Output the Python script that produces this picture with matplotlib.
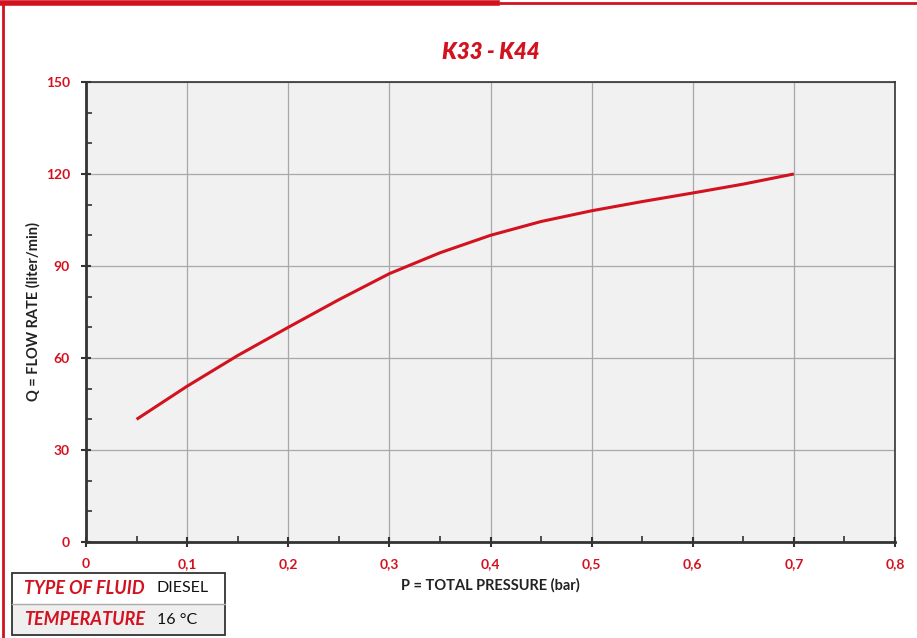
import matplotlib.pyplot as plt
from matplotlib.ticker import MultipleLocator
from matplotlib.patches import Rectangle
from matplotlib.lines import Line2D

# Flow curve
pressure = [0.05, 0.10, 0.15, 0.20, 0.25, 0.30, 0.35, 0.40, 0.45, 0.50, 0.55, 0.60, 0.65, 0.70]
flow = [40, 50.8, 60.8, 70, 79, 87.5, 94.3, 100, 104.5, 108, 111, 113.8, 116.7, 120]

x_ticks = [0, 0.1, 0.2, 0.3, 0.4, 0.5, 0.6, 0.7, 0.8]
x_labels = ["0", "0,1", "0,2", "0,3", "0,4", "0,5", "0,6", "0,7", "0,8"]
y_ticks = [0, 30, 60, 90, 120, 150]

red = "#d3121f"
dark = "#333333"

plt.rcParams['font.family'] = ['Lato', 'DejaVu Sans']

fig = plt.figure(figsize=(9.17, 6.38), dpi=100)
ax = fig.add_axes([0.0938, 0.1505, 0.8822, 0.7210])
ax.set_facecolor("#f1f1f1")

ax.plot(pressure, flow, color=red, linewidth=2.2, solid_capstyle='butt')

ax.set_xlim(0, 0.8)
ax.set_ylim(0, 150)
ax.set_xticks(x_ticks)
ax.set_xticklabels(x_labels)
ax.set_yticks(y_ticks)
ax.xaxis.set_minor_locator(MultipleLocator(0.05))
ax.yaxis.set_minor_locator(MultipleLocator(10))
ax.grid(True, which='major', color="#a8a8a8", linewidth=0.9)
ax.set_axisbelow(True)

for side in ['left', 'bottom']:
    ax.spines[side].set_color(dark)
    ax.spines[side].set_linewidth(2)
for side in ['top', 'right']:
    ax.spines[side].set_color(dark)
    ax.spines[side].set_linewidth(1.2)

ax.tick_params(which='major', direction='inout', length=7, width=1.5, color=dark,
               labelcolor=red, labelsize=10, pad=8)
ax.tick_params(which='minor', direction='in', length=4, width=1.2, color=dark)
for lbl in ax.get_xticklabels() + ax.get_yticklabels():
    lbl.set_fontweight('bold')

ax.set_xlabel("P = TOTAL PRESSURE (bar)", fontsize=10.5, fontweight='bold', color="#222222", labelpad=6)
ax.set_ylabel("Q = FLOW RATE (liter/min)", fontsize=10.5, fontweight='bold', color="#222222", labelpad=4)

fig.text(0.535, 0.918, "K33 - K44", color=red, fontsize=16, fontweight='heavy', fontstyle='italic',
         ha='center', va='center')

# red page border
fig.add_artist(Line2D([0, 0.542], [0.996, 0.996], color=red, linewidth=4, transform=fig.transFigure))
fig.add_artist(Line2D([0.542, 1], [0.995, 0.995], color=red, linewidth=2, transform=fig.transFigure))
fig.add_artist(Line2D([0.0035, 0.0035], [0, 0.996], color=red, linewidth=2, transform=fig.transFigure))

# fluid info box
x0, x1 = 12 / 917, 225 / 917
y_top, y_mid, y_bot = 1 - 573 / 638, 1 - 604 / 638, 1 - 635 / 638
fig.add_artist(Rectangle((x0, y_mid), x1 - x0, y_top - y_mid, transform=fig.transFigure,
                         facecolor="white", edgecolor="none"))
fig.add_artist(Rectangle((x0, y_bot), x1 - x0, y_mid - y_bot, transform=fig.transFigure,
                         facecolor="#efefef", edgecolor="none"))
fig.add_artist(Line2D([x0, x1], [y_mid, y_mid], color="#aaaaaa", linewidth=1, transform=fig.transFigure))
fig.add_artist(Rectangle((x0, y_bot), x1 - x0, y_top - y_bot, transform=fig.transFigure,
                         facecolor="none", edgecolor="#333333", linewidth=1.3))

ty1 = (y_top + y_mid) / 2
ty2 = (y_mid + y_bot) / 2
fig.text(24 / 917, ty1, "TYPE OF FLUID", color=red, fontsize=13, fontweight='bold',
         fontstyle='italic', va='center')
fig.text(157 / 917, ty1, "DIESEL", color="#111111", fontsize=11.5, va='center')
fig.text(24 / 917, ty2, "TEMPERATURE", color=red, fontsize=13, fontweight='bold',
         fontstyle='italic', va='center')
fig.text(157 / 917, ty2, "16 °C", color="#111111", fontsize=11.5, va='center')

plt.savefig('out.png', dpi=100)
